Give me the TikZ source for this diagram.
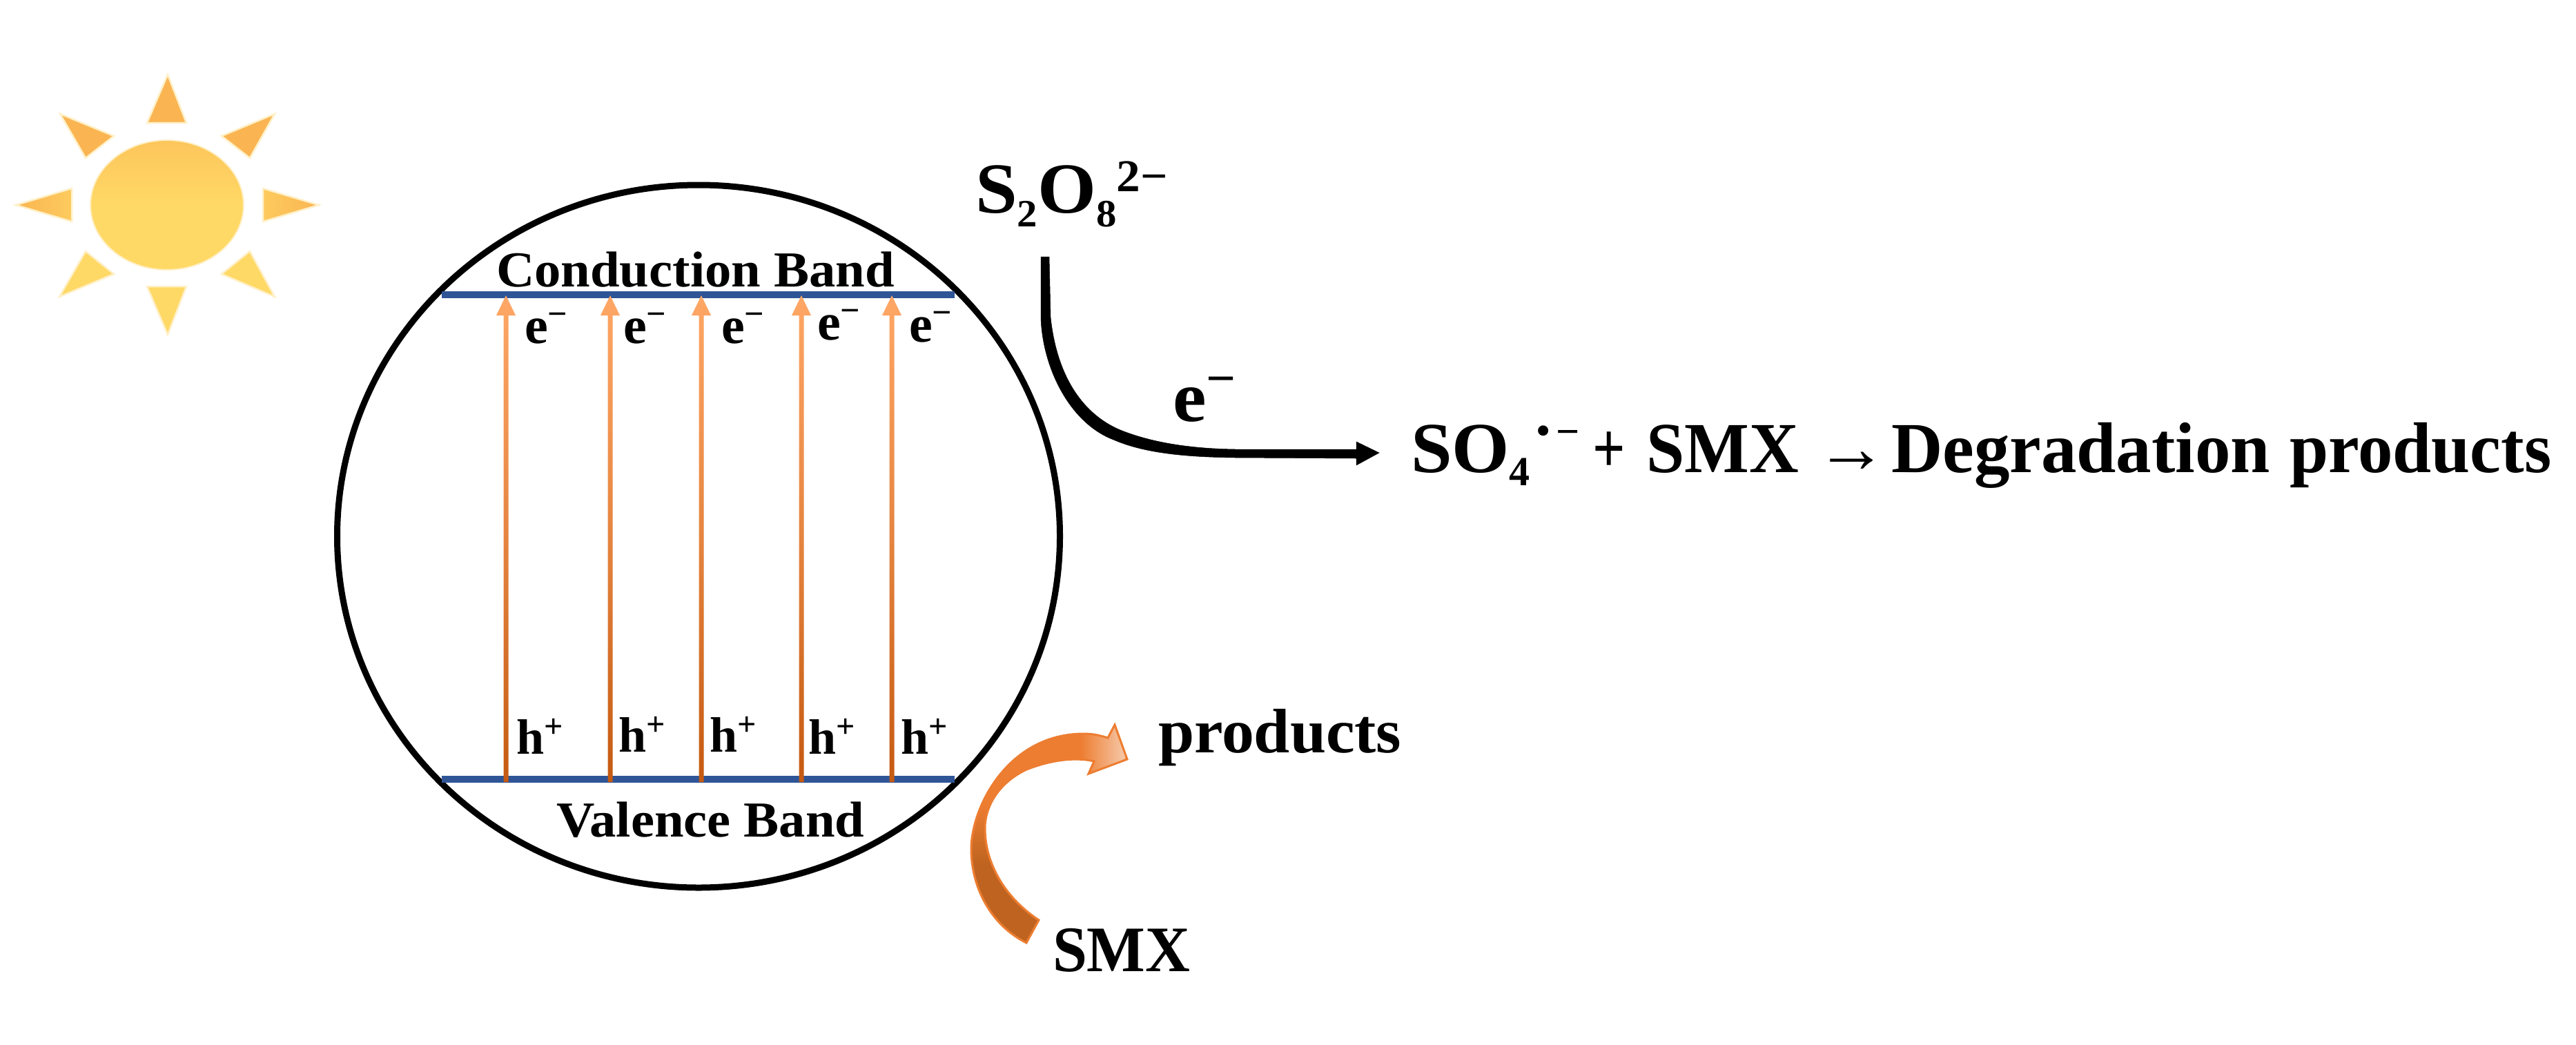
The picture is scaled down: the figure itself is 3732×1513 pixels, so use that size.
\documentclass[tikz,border=0pt]{standalone}
\usepackage{fontspec}
\usepackage{graphicx}
\setmainfont{Liberation Serif}
\usetikzlibrary{calc,arrows.meta,shapes.geometric}
\definecolor{rayup}{HTML}{FAB552}
\definecolor{raylow}{HTML}{FFD966}
\definecolor{halo}{HTML}{FFF0C8}
\definecolor{bandblue}{HTML}{2F5597}
\definecolor{arrowlow}{HTML}{C55A11}
\definecolor{arrowhigh}{HTML}{FFA766}
\definecolor{orangemain}{HTML}{ED7D31}
\definecolor{orangedark}{HTML}{BF6420}
\definecolor{orangepale}{HTML}{F6C8A8}
\newcommand{\fsz}[1]{\fontsize{#1}{#1}\selectfont\bfseries}
\newcommand{\hs}[2]{\scalebox{#1}[1]{#2}}
\newcommand{\chemup}[3]{\raisebox{#1pt}{\fontsize{#2}{#2}\selectfont #3}}
\newcommand{\orangeshape}{(1487,1366) .. controls (1435,1340) and (1407,1285) .. (1407,1230)
  .. controls (1407,1170) and (1460,1063) .. (1570,1063)
  .. controls (1585,1063) and (1595,1066) .. (1605,1069)
  -- (1615,1050) -- (1633,1100) -- (1577,1121) -- (1585,1103)
  .. controls (1565,1098) and (1530,1098) .. (1487,1115)
  .. controls (1445,1135) and (1427,1170) .. (1427,1200)
  .. controls (1427,1250) and (1455,1300) .. (1505,1333) -- cycle}
\tikzset{
  x=1pt,y=-1pt,
  txt/.style={inner sep=0pt,outer sep=0pt,anchor=base west,text=black},
  ray/.style={draw=halo,line width=2.5pt,line join=miter},
  bandline/.style={line width=10pt,draw=bandblue},
  bandarrow/.style={bottom color=arrowlow,top color=arrowhigh,middle color=arrowhigh!55!arrowlow},
  elecarrow/.style={draw=black,fill=black,line width=0.5pt},
  particle/.style={ellipse,draw=black,line width=9pt,minimum width=1047pt,minimum height=1018pt,inner sep=0pt,outer sep=0pt},
}
\begin{document}
\begin{tikzpicture}
\useasboundingbox[fill=white] (0,0) rectangle (3732,1513);
% sun
\filldraw[ray,fill=rayup] (243,108) -- (270,178) -- (213,178) -- cycle;
\filldraw[ray,fill=rayup] (87,165) -- (165,197) -- (124,229) -- cycle;
\filldraw[ray,fill=rayup] (398,165) -- (321,197) -- (362,229) -- cycle;
\shade[left color=rayup,right color=raylow!60!rayup] (23,297) -- (104,273) -- (104,321) -- cycle;
\draw[ray] (23,297) -- (104,273) -- (104,321) -- cycle;
\shade[left color=raylow!60!rayup,right color=rayup] (462,297) -- (381,273) -- (381,321) -- cycle;
\draw[ray] (462,297) -- (381,273) -- (381,321) -- cycle;
\filldraw[ray,fill=raylow] (124,364) -- (165,397) -- (86,430) -- cycle;
\filldraw[ray,fill=raylow] (362,364) -- (321,397) -- (398,430) -- cycle;
\filldraw[ray,fill=raylow] (213,415) -- (270,415) -- (243,485) -- cycle;
\shade[top color=rayup!55!raylow,bottom color=raylow,middle color=raylow]
  (242,297) ellipse [x radius=111,y radius=94];
\draw[halo,line width=2pt] (242,297) ellipse [x radius=111,y radius=94];
% particle
\node[particle] (particle) at (1012,777) {};
% bands
\coordinate (cbL) at (640,427);
\coordinate (cbR) at (1383,427);
\coordinate (vbL) at (640,1129);
\coordinate (vbR) at (1383,1129);
\draw[bandline] (cbL) -- (cbR);
\draw[bandline] (vbL) -- (vbR);
\foreach \n/\x in {1/733,2/884,3/1016,4/1161,5/1292}{
  \coordinate (v\n) at (\x,1133);
  \coordinate (c\n) at (\x,428);
  \shade[bandarrow] ($(v\n)+(-3.5,0)$) -- ($(c\n)+(-3.5,29)$) -- ($(c\n)+(-14,29)$) -- (c\n)
    -- ($(c\n)+(14,29)$) -- ($(c\n)+(3.5,29)$) -- ($(v\n)+(3.5,0)$) -- cycle;
}
\node[txt] (cbtext) at (719,415) {\fsz{73}\hs{1.05}{Conduction Band}};
\node[txt] (vbtext) at (806,1212) {\fsz{73}\hs{1.05}{Valence Band}};
% carriers
\foreach \n/\x/\y in {1/760/497,2/903/497,3/1045/497,4/1184/492,5/1317/495}{
  \node[txt] (e\n) at (\x,\y) {\fsz{76}e\chemup{26}{50}{−}};
}
\foreach \n/\x/\y in {1/748/1092,2/896/1089,3/1028/1089,4/1171/1092,5/1305/1092}{
  \node[txt] (h\n) at (\x,\y) {\fsz{72}h\chemup{24}{48}{+}};
}
% persulfate
\node[txt] (s2o8) at (1413,308) {\fsz{104}\hs{1.05}{S\chemup{-20}{56}{2}O\chemup{-20}{56}{8}\chemup{31}{66}{2−}}};
\coordinate (sA) at (1514,372);
\coordinate (sH) at (1965,657);
\coordinate (sD) at (1998,656);
\draw[elecarrow] ($(sA)+(-6,0)$) -- (1508,460)
  .. controls (1510,530) and (1548,612) .. (1613,637)
  .. controls (1650,653) and (1700,662) .. (1790,663)
  -- ($(sH)+(0,7)$) -- ($(sH)+(0,17)$) -- (sD) -- ($(sH)+(0,-17)$) -- ($(sH)+(0,-6)$)
  -- (1790,651)
  .. controls (1720,650) and (1665,640) .. (1623,623)
  .. controls (1580,605) and (1533,560) .. (1522,460)
  -- ($(sA)+(6,0)$) -- cycle;
\node[txt] (ebig) at (1699,610) {\fsz{104}\hs{1.05}{e\chemup{38}{72}{−}}};
% reaction
\node[txt] (reaction) at (2044,684) {\fsz{104}%
  \makebox[263pt][l]{\hs{1.03}{SO}\chemup{-19}{60}{4}\hspace{10pt}\chemup{42}{55}{•}\hspace{8pt}\chemup{39}{60}{−}}%
  \makebox[78pt][l]{\hs{0.8}{+}}%
  \makebox[245pt][l]{\hs{0.955}{SMX}}%
  \makebox[110pt][l]{→}%
  \hs{0.99}{Degradation}\hspace{28pt}\hs{0.97}{products}};
% degradation of SMX
\fill[orangemain] \orangeshape;
\begin{scope}
  \clip \orangeshape;
  \fill[top color=orangemain,bottom color=orangedark] (1395,1165) rectangle (1530,1250);
  \fill[orangedark] (1395,1250) rectangle (1530,1375);
  \fill[left color=orangemain,right color=orangepale] (1565,1040) rectangle (1630,1130);
\end{scope}
\draw[orangemain,line width=3pt,line join=miter] \orangeshape;
\node[txt] (smx) at (1525,1407) {\fsz{94}\hs{0.955}{SMX}};
\node[txt] (prod) at (1678,1090) {\fsz{91}\hs{1.03}{products}};
\end{tikzpicture}
\end{document}
